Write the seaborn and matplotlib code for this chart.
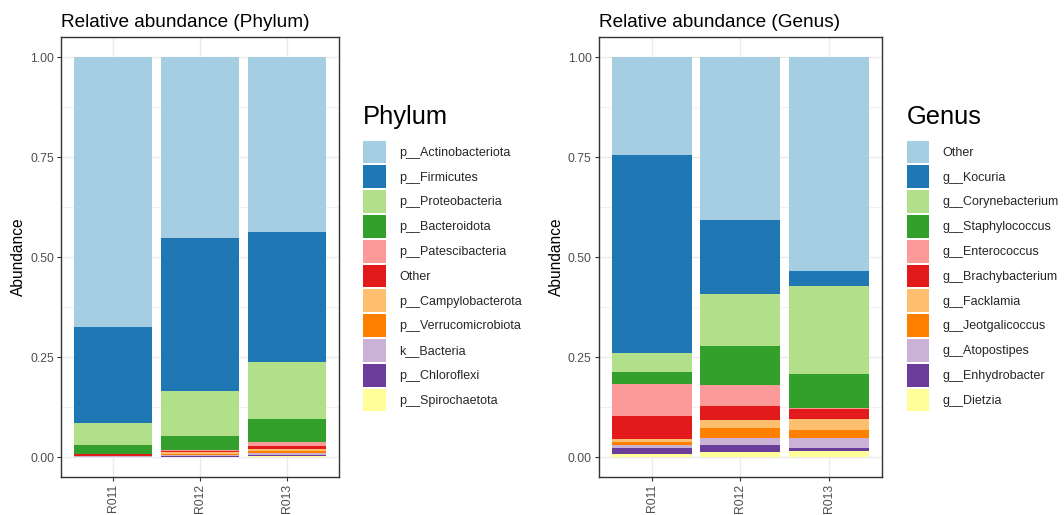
import numpy as np
import pandas as pd
import matplotlib
matplotlib.use("Agg")
import matplotlib.pyplot as plt
from matplotlib.patches import Patch
import seaborn as sns

samples = ["R011", "R012", "R013"]

phylum_names = ["p__Actinobacteriota", "p__Firmicutes", "p__Proteobacteria", "p__Bacteroidota",
                "p__Patescibacteria", "Other", "p__Campylobacterota", "p__Verrucomicrobiota",
                "k__Bacteria", "p__Chloroflexi", "p__Spirochaetota"]
phylum_R011 = [0.6745, 0.2412, 0.0551, 0.0207, 0.0010, 0.0040, 0.0015, 0.0005, 0.0005, 0.0005, 0.0005]
phylum_R012 = [0.4533, 0.3823, 0.1110, 0.0354, 0.0020, 0.0040, 0.0050, 0.0020, 0.0020, 0.0020, 0.0010]
phylum_R013 = [0.4366, 0.3255, 0.1427, 0.0585, 0.0100, 0.0060, 0.0060, 0.0050, 0.0040, 0.0030, 0.0030]

genus_names = ["Other", "g__Kocuria", "g__Corynebacterium", "g__Staphylococcus", "g__Enterococcus",
               "g__Brachybacterium", "g__Facklamia", "g__Jeotgalicoccus", "g__Atopostipes",
               "g__Enhydrobacter", "g__Dietzia"]
genus_R011 = [0.2458, 0.4950, 0.0467, 0.0290, 0.0818, 0.0560, 0.0083, 0.0083, 0.0058, 0.0150, 0.0083]
genus_R012 = [0.4075, 0.1861, 0.1285, 0.0968, 0.0543, 0.0334, 0.0200, 0.0250, 0.0175, 0.0192, 0.0117]
genus_R013 = [0.5350, 0.0368, 0.2195, 0.0857, 0.0020, 0.0267, 0.0259, 0.0209, 0.0242, 0.0083, 0.0150]

palette = sns.color_palette("Paired", 11)

sns.set_theme(style="white")
plt.rcParams["font.family"] = ["Liberation Sans", "DejaVu Sans"]

W, H = 1064, 515
fig = plt.figure(figsize=(W / 100, H / 100), dpi=100)
fig.patch.set_facecolor("white")


def panel(x0, x1, title, legend_title, names, vals, leg_x):
    top, bottom = 37, 477
    ax = fig.add_axes([x0 / W, (H - bottom) / H, (x1 - x0) / W, (bottom - top) / H])
    df = pd.DataFrame(vals, index=samples, columns=names)
    # stacked: first name on top; draw cumulative heights, tallest first
    cum = df[names[::-1]].cumsum(axis=1)[names[::-1]]
    for i, name in enumerate(names):
        d = pd.DataFrame({"Sample": samples, "Abundance": cum[name].values})
        sns.barplot(data=d, x="Sample", y="Abundance", color=palette[i], width=0.9,
                    saturation=1, ax=ax, zorder=3, linewidth=0)
    ax.set_xlim(-0.6, 2.6)
    ax.set_ylim(-0.05, 1.05)
    ax.set_yticks([0, 0.25, 0.5, 0.75, 1.0])
    ax.set_yticklabels(["0.00", "0.25", "0.50", "0.75", "1.00"])
    ax.set_yticks([0.125, 0.375, 0.625, 0.875], minor=True)
    ax.grid(True, which="major", color="#EBEBEB", linewidth=1.0, zorder=0)
    ax.grid(True, which="minor", axis="y", color="#EBEBEB", linewidth=0.5, zorder=0)
    ax.set_axisbelow(True)
    for s in ax.spines.values():
        s.set_color("#333333")
        s.set_linewidth(1.0)
    ax.tick_params(axis="both", which="major", length=3, width=0.8, color="#333333",
                   labelsize=8.7, labelcolor="#4D4D4D", pad=2, left=True, bottom=True)
    ax.tick_params(axis="both", which="minor", length=0)
    for lab in ax.get_xticklabels():
        lab.set_rotation(90)
        lab.set_va("top")
        lab.set_ha("center")
    ax.set_xlabel("")
    ax.set_ylabel("Abundance", fontsize=11.2, color="black", labelpad=3)
    ax.text(0, 1.0 + 10 / 440, title, transform=ax.transAxes, ha="left", va="baseline",
            fontsize=13.7, color="black")
    handles = [Patch(facecolor=palette[i], edgecolor="none", label=n) for i, n in enumerate(names)]
    fig.text(leg_x / W, (H - 124) / H, legend_title, ha="left", va="baseline",
             fontsize=18.4, color="black")
    fig.legend(handles=handles, loc="upper left",
               bbox_to_anchor=(leg_x / W, (H - 140.7) / H), frameon=False,
               fontsize=9.0, handlelength=1.82, handleheight=2.42,
               labelspacing=0.165, handletextpad=1.05, borderpad=0, borderaxespad=0)
    return ax


panel(61.3, 338.7, "Relative abundance (Phylum)", "Phylum",
      phylum_names, [phylum_R011, phylum_R012, phylum_R013], 363.3)
panel(598.6, 881.8, "Relative abundance (Genus)", "Genus",
      genus_names, [genus_R011, genus_R012, genus_R013], 906.7)

fig.savefig("out.png", dpi=100, facecolor="white")
